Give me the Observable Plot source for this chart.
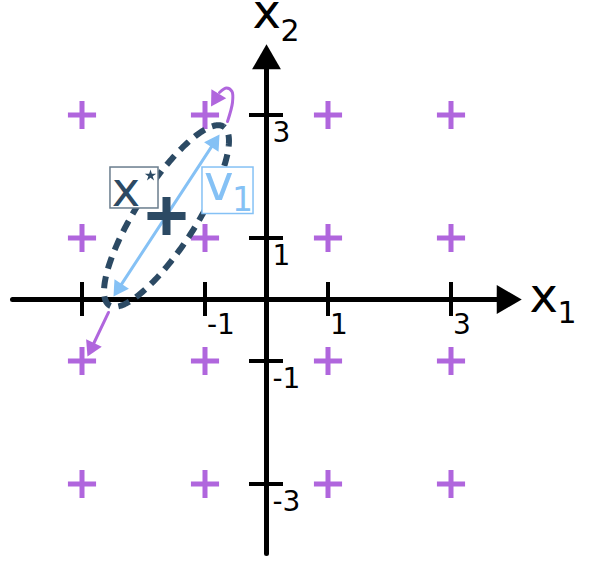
<!DOCTYPE html>
<html><head><meta charset="utf-8">
<script src="https://cdn.jsdelivr.net/npm/d3@7"></script>
<script src="https://cdn.jsdelivr.net/npm/@observablehq/plot@0.6"></script>
<style>body{margin:0;background:#fff}</style>
</head><body><div id="chart"></div>
<script>
// ---- data ----
const latticeX = [-3, -1, 1, 3];
const latticeY = [-3, -1, 1, 3];
const xTickValues = [-3, -1, 1, 3];
const yTickValues = [-3, -1, 1, 3];
const xLabelValues = [-1, 1, 3];
const xLabelTexts = ["-1", "1", "3"];
const yLabelValues = [3, 1, -1, -3];
const yLabelTexts = ["3", "1", "-1", "-3"];
const xStar = [-1.626, 1.358];
const v1Tail = [-2.488, 0.049];
const v1Tip = [-0.764, 2.683];
const stepFrom = [-2.569, -0.211];
const stepTip = [-2.911, -0.927];
const loopPoints = [[-0.634, 2.894], [-0.553, 3.203], [-0.561, 3.382], [-0.650, 3.439], [-0.764, 3.366]];
const loopTip = [-0.902, 3.138];
const ellipseCenter = xStar;
const ellipseA = 1.724, ellipseB = 0.488, ellipseAngle = 57.4;
const xStarBox = [-2.537, -1.756, 1.480, 2.146];
const v1Box = [-1.041, -0.211, 1.390, 2.146];

// ---- layout ----
const W = 598, H = 561, U = 61.5, OX = 266, OY = 299;
const purple = "#b066dd", blue = "#85c1f5", dark = "#2c4a64";
const font = "DejaVu Sans";

function head(from, tip, lenPx) {
  const dx = tip[0] - from[0], dy = tip[1] - from[1];
  const L = Math.hypot(dx, dy), ux = dx / L, uy = dy / L;
  const half = lenPx / 3, off = 2 * half / U;
  return {x: tip[0] - ux * off, y: tip[1] - uy * off, rotate: Math.atan2(ux, uy) * 180 / Math.PI,
          r: Math.sqrt(3 * Math.sqrt(3) * half * half / Math.PI)};
}
const smallHeads = [head(v1Tail, v1Tip, 15), head(v1Tip, v1Tail, 15), head(stepFrom, stepTip, 15), head(loopPoints[loopPoints.length - 1], loopTip, 15)];
const axisTip = 4.15;
const axisHeads = [head([0, 0], [axisTip, 0], 25), head([0, 0], [0, axisTip], 25)];

const th = ellipseAngle * Math.PI / 180;
const ell = d3.range(0, 241).map(i => {
  const t = i / 240 * 2 * Math.PI;
  return [ellipseCenter[0] + ellipseA * Math.cos(th) * Math.cos(t) - ellipseB * Math.sin(th) * Math.sin(t),
          ellipseCenter[1] + ellipseA * Math.sin(th) * Math.cos(t) + ellipseB * Math.cos(th) * Math.sin(t)];
});

const lattice = latticeX.flatMap(x => latticeY.map(y => ({x, y})));
const tl = 17 / U;
const txt = (data, opts) => Plot.text(data, {fontFamily: font, textAnchor: "start", lineAnchor: "bottom", ...opts});

const chart = Plot.plot({
  width: W, height: H, margin: 0,
  x: {domain: [-OX / U, (W - OX) / U], axis: null},
  y: {domain: [-(H - OY) / U, OY / U], axis: null},
  style: {background: "white", overflow: "visible"},
  marks: [
    Plot.line([[-254 / U, 0], [axisHeads[0].x, 0]], {stroke: "black", strokeWidth: 5}),
    Plot.line([[0, -254 / U], [0, axisHeads[1].y]], {stroke: "black", strokeWidth: 5}),
    Plot.dot(axisHeads, {x: "x", y: "y", rotate: "rotate", r: axisHeads[0].r, symbol: "triangle", fill: "black", stroke: null}),
    Plot.ruleX(xTickValues, {y1: -tl, y2: tl, stroke: "black", strokeWidth: 4}),
    Plot.ruleY(yTickValues, {x1: -tl, x2: tl, stroke: "black", strokeWidth: 4}),
    txt(xLabelValues.map((v, i) => ({x: v, y: 0, t: xLabelTexts[i]})), {x: "x", y: "y", text: "t", dx: 2, dy: 34, fontSize: 28, fill: "black"}),
    txt(yLabelValues.map((v, i) => ({x: 0, y: v, t: yLabelTexts[i]})), {x: "x", y: "y", text: "t", dx: 6, dy: 27, fontSize: 28, fill: "black"}),
    txt([{x: 4.276, y: -0.211, t: "x"}, {x: -0.228, y: 4.407, t: "x"}], {x: "x", y: "y", text: "t", fontSize: 48, fill: "black"}),
    txt([{x: 4.732, y: -0.374, t: "1"}, {x: 0.228, y: 4.211, t: "2"}], {x: "x", y: "y", text: "t", fontSize: 30, fill: "black"}),
    Plot.dot(lattice, {x: "x", y: "y", symbol: "plus", r: 9.1, stroke: purple, strokeWidth: 5}),
    Plot.line(ell, {stroke: dark, strokeWidth: 6, strokeDasharray: "12,8", strokeLinecap: "butt"}),
    Plot.line([[smallHeads[1].x, smallHeads[1].y], [smallHeads[0].x, smallHeads[0].y]], {stroke: blue, strokeWidth: 3}),
    Plot.line([stepFrom, [smallHeads[2].x, smallHeads[2].y]], {stroke: purple, strokeWidth: 3}),
    Plot.line(loopPoints, {stroke: purple, strokeWidth: 3, curve: "catmull-rom"}),
    Plot.dot(smallHeads, {x: "x", y: "y", rotate: "rotate", r: smallHeads[0].r, symbol: "triangle", fill: (d, i) => i < 2 ? blue : purple, stroke: null}),
    Plot.dot([xStar], {x: d => d[0], y: d => d[1], symbol: "plus", r: 12.3, stroke: dark, strokeWidth: 8}),
    Plot.rect([xStarBox], {x1: d => d[0], x2: d => d[1], y1: d => d[2], y2: d => d[3], fill: "white", stroke: "#6a7d8d", strokeWidth: 1.5}),
    Plot.rect([v1Box], {x1: d => d[0], x2: d => d[1], y1: d => d[2], y2: d => d[3], fill: "white", stroke: blue, strokeWidth: 1.5}),
    txt([{x: -2.516, y: 1.528, t: "x"}], {x: "x", y: "y", text: "t", fontSize: 48, fill: dark}),
    Plot.dot([{x: -1.886, y: 2.016}], {x: "x", y: "y", symbol: "star", r: 3.6, fill: dark, stroke: null}),
    txt([{x: -1.016, y: 1.610, t: "v"}], {x: "x", y: "y", text: "t", fontSize: 50, fill: blue}),
    txt([{x: -0.561, y: 1.447, t: "1"}], {x: "x", y: "y", text: "t", fontSize: 33, fill: blue})
  ]
});
document.getElementById("chart").append(chart);
</script>
</body></html>
